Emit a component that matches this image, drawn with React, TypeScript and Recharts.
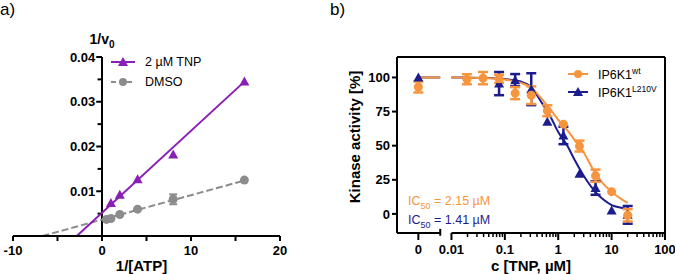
import React from "react";
import { ComposedChart, Line, Scatter, XAxis, YAxis, ReferenceLine, ErrorBar, Legend } from "recharts";

const FONT = "Arial, 'Liberation Sans', Helvetica, sans-serif";
const PURPLE = "#8a1fb6";
const GREY = "#8c8c8c";
const ORANGE = "#f7953f";
const NAVY = "#1c1c8e";

// a) Lineweaver-Burk: 1/[ATP] vs 1/v0
const dmsoInvAtp = [0.5, 1, 2, 4, 8, 16];
const dmsoInvV = [0.0037, 0.0039, 0.0048, 0.006, 0.0082, 0.0125];
const dmsoErr = [null, null, null, null, 0.0011, null];
const tnpInvAtp = [1, 2, 4, 8, 16];
const tnpInvV = [0.0074, 0.0092, 0.0127, 0.0182, 0.0345];
// fitted lines, read at x-intercept and last point
const tnpFitX = [-2.83, 16];
const tnpFitY = [0, 0.0345];
const dmsoFitX = [-6.7, 16];
const dmsoFitY = [0, 0.0124];
const aXTicks = [-10, -5, 0, 5, 10, 15, 20];
const aXMajor = [-10, 0, 10, 20];
const aYMajor = [0.01, 0.02, 0.03, 0.04];
const aYMinor = [0.005, 0.015, 0.025, 0.035];
const aLegend = ["2 µM TNP", "DMSO"];

// b) dose response, c [TNP, µM] vs kinase activity [%]
const wtConc = [0, 0.0195, 0.039, 0.078, 0.156, 0.3125, 0.625, 1.25, 2.5, 5, 10, 20];
const wtAct = [93, 98.7, 99.5, 99, 88.5, 87, 75.6, 65.8, 49.7, 28, 16.3, -1];
const wtErr = [4, 3.7, 4.5, 3, 4.4, 6.5, 4, null, 4, 4.5, null, 4.5];
const lvConc = [0, 0.078, 0.156, 0.3125, 0.625, 1.25, 2.5, 5, 10, 20];
const lvAct = [100, 95.5, 98, 91.4, 67.5, 57.5, 29.5, 19, 2.5, -0.7];
const lvErr = [null, 8.5, 4.5, 11.7, null, 6.4, null, 5, null, 6.5];
const fitConc = [0.01, 0.02, 0.05, 0.1, 0.2, 0.3, 0.5, 0.7, 1, 1.5, 2, 3, 5, 7, 10, 15, 20];
const wtFit = [100, 99.9, 99.5, 98.5, 96, 93, 84, 77, 69, 61, 54.5, 45, 29.5, 22, 16.3, 11, 8];
const lvFit = [100, 99.9, 99.6, 98.8, 97, 93.5, 81, 72, 60, 49.5, 40, 28, 16, 10.5, 6.5, 4.5, 3.5];
const topFit = 100; // plateau drawn across the "0" segment
const bXLabels = ["0", "0.01", "0.1", "1", "10", "100"];
const bYTicks = [0, 25, 50, 75, 100];
const ic50Wt = "2.15";
const ic50Lv = "1.41";

// broken log axis: decade units, "0" sits left of the break
const ZERO_AT = -2.62;
const BREAK_L = -2.21;
const X_MIN = -3.02;
const X_MAX = 2;
const Y_MIN = -14;
const Y_MAX = 115;
const pos = (c: number) => (c === 0 ? ZERO_AT : Math.log10(c));
const bXTicks = [ZERO_AT, -2, -1, 0, 1, 2];
const bMinor = [-2, -1, 0, 1].flatMap((d) => [2, 3, 4, 5, 6, 7, 8, 9].map((k) => d + Math.log10(k)));

const tnpRows = tnpInvAtp.map((x, i) => ({ x, y: tnpInvV[i] }));
const dmsoRows = dmsoInvAtp.map((x, i) => ({ x, y: dmsoInvV[i], err: dmsoErr[i] }));
const tnpFit = tnpFitX.map((x, i) => ({ x, y: tnpFitY[i] }));
const dmsoFit = dmsoFitX.map((x, i) => ({ x, y: dmsoFitY[i] }));
const wtRows = wtConc.map((c, i) => ({ lx: pos(c), y: wtAct[i], err: wtErr[i] }));
const lvRows = lvConc.map((c, i) => ({ lx: pos(c), y: lvAct[i], err: lvErr[i] }));
const wtCurve = fitConc.map((c, i) => ({ lx: pos(c), y: wtFit[i] }));
const lvCurve = fitConc.map((c, i) => ({ lx: pos(c), y: lvFit[i] }));
const zeroSeg = [{ lx: ZERO_AT, y: topFit }, { lx: BREAK_L, y: topFit }];

const tickStyle = { fill: "#000", fontSize: 13, fontWeight: 700, fontFamily: FONT };
const titleStyle = { fill: "#000", fontSize: 15, fontWeight: 700, fontFamily: FONT };
const ink = { stroke: "#000", strokeWidth: 2 };

const tri = (color: string, s = 5) => (p: any) => (
  <path d={`M${p.cx},${p.cy - s}L${p.cx + s},${p.cy + s * 0.8}L${p.cx - s},${p.cy + s * 0.8}Z`} fill={color} />
);
const dot = (color: string, r = 4) => (p: any) => <circle cx={p.cx} cy={p.cy} r={r} fill={color} />;

type Row = { label: React.ReactNode; color: string; marker: "tri" | "dot"; dash?: string };

function LegendBox({ rows, lineW, rowH }: { rows: Row[]; lineW: number; rowH: number }) {
  return (
    <div style={{ fontFamily: FONT, fontSize: 12.5, color: "#000" }}>
      {rows.map((r, i) => (
        <div key={i} style={{ display: "flex", alignItems: "center", height: rowH }}>
          <svg width={lineW} height={12} style={{ overflow: "visible" }}>
            <line x1={0} x2={lineW} y1={6} y2={6} stroke={r.color} strokeWidth={2} strokeDasharray={r.dash} />
            {r.marker === "tri" ? tri(r.color)({ cx: lineW / 2, cy: 6 }) : dot(r.color)({ cx: lineW / 2, cy: 6 })}
          </svg>
          <span style={{ marginLeft: 10, whiteSpace: "nowrap" }}>{r.label}</span>
        </div>
      ))}
    </div>
  );
}

function KmChart() {
  return (
    <ComposedChart width={300} height={274} margin={{ top: 57, right: 20, bottom: 0, left: 13 }}>
      <XAxis
        type="number"
        dataKey="x"
        domain={[-10, 20]}
        ticks={aXTicks}
        tickFormatter={(v: number) => (aXMajor.includes(v) ? String(v) : "")}
        axisLine={ink}
        tickLine={ink}
        tickSize={5}
        tickMargin={5}
        tick={tickStyle}
        height={38}
        allowDataOverflow
        label={{ value: "1/[ATP]", position: "insideBottom", offset: 3, dx: -5, ...titleStyle }}
      />
      <YAxis type="number" dataKey="y" domain={[0, 0.04]} hide allowDataOverflow />
      <ReferenceLine
        segment={[{ x: 0, y: 0 }, { x: 0, y: 0.04 }]}
        {...ink}
        label={{
          content: ({ viewBox }: any) => (
            <text x={viewBox.x} y={viewBox.y - 13} textAnchor="middle" {...titleStyle} fontSize={14}>
              1/v<tspan fontSize={10} dy={4}>0</tspan>
            </text>
          ),
        }}
      />
      {aYMajor.map((v) => (
        <ReferenceLine
          key={v}
          segment={[{ x: -0.65, y: v }, { x: 0, y: v }]}
          {...ink}
          label={{ value: String(v), position: "left", offset: 1, ...tickStyle }}
        />
      ))}
      {aYMinor.map((v) => (
        <ReferenceLine key={v} segment={[{ x: -0.5, y: v }, { x: 0, y: v }]} {...ink} />
      ))}
      <Line data={dmsoFit} dataKey="y" type="linear" stroke={GREY} strokeWidth={2} strokeDasharray="7 3" dot={false} isAnimationActive={false} />
      <Line data={tnpFit} dataKey="y" type="linear" stroke={PURPLE} strokeWidth={2} dot={false} isAnimationActive={false} />
      <Scatter data={dmsoRows} fill={GREY} shape={dot(GREY, 4.5)} isAnimationActive={false}>
        <ErrorBar dataKey="err" direction="y" width={4} stroke={GREY} strokeWidth={2} />
      </Scatter>
      <Scatter data={tnpRows} fill={PURPLE} shape={tri(PURPLE, 5)} isAnimationActive={false} />
      <Legend
        layout="vertical"
        align="center"
        verticalAlign="middle"
        wrapperStyle={{ left: 111, top: 52.6, width: "auto" }}
        content={() => (
          <LegendBox
            lineW={24}
            rowH={19.4}
            rows={[
              { label: aLegend[0], color: PURPLE, marker: "tri" },
              { label: aLegend[1], color: GREY, marker: "dot", dash: "5 3" },
            ]}
          />
        )}
      />
    </ComposedChart>
  );
}

function DoseChart() {
  return (
    <ComposedChart width={340} height={274} margin={{ top: 57, right: 10, bottom: 0, left: 17 }}>
      <XAxis
        type="number"
        dataKey="lx"
        domain={[X_MIN, X_MAX]}
        ticks={bXTicks}
        tickFormatter={(v: number) => bXLabels[bXTicks.indexOf(v)] ?? ""}
        axisLine={false}
        tickLine={ink}
        tickSize={7}
        tickMargin={5}
        tick={tickStyle}
        height={41}
        allowDataOverflow
        label={{ value: "c [TNP, µM]", position: "insideBottom", offset: 3, ...titleStyle }}
      />
      <YAxis
        type="number"
        dataKey="y"
        domain={[Y_MIN, Y_MAX]}
        ticks={bYTicks}
        axisLine={ink}
        tickLine={ink}
        tickSize={5}
        tickMargin={2}
        tick={tickStyle}
        width={45}
        allowDataOverflow
        label={{
          content: ({ viewBox }: any) => (
            <text
              transform={`translate(${viewBox.x + 8},${viewBox.y + viewBox.height / 2 - 8}) rotate(-90)`}
              textAnchor="middle"
              {...titleStyle}
            >
              Kinase activity [%]
            </text>
          ),
        }}
      />
      <ReferenceLine y={Y_MAX} {...ink} />
      <ReferenceLine x={X_MAX} {...ink} />
      <ReferenceLine segment={[{ x: X_MIN, y: Y_MIN }, { x: BREAK_L, y: Y_MIN }]} {...ink} ifOverflow="visible" />
      <ReferenceLine segment={[{ x: -2, y: Y_MIN }, { x: X_MAX, y: Y_MIN }]} {...ink} ifOverflow="visible" />
      <ReferenceLine segment={[{ x: BREAK_L, y: Y_MIN + 3 }, { x: BREAK_L, y: Y_MIN - 2 }]} {...ink} ifOverflow="visible" />
      {bMinor.map((m) => (
        <ReferenceLine key={m} segment={[{ x: m, y: Y_MIN }, { x: m, y: Y_MIN - 3 }]} stroke="#000" strokeWidth={1.5} ifOverflow="visible" />
      ))}
      <Line data={zeroSeg} dataKey="y" type="linear" stroke={NAVY} strokeWidth={2} dot={false} isAnimationActive={false} />
      <Line data={lvCurve} dataKey="y" type="monotone" stroke={NAVY} strokeWidth={2} dot={false} isAnimationActive={false} />
      <Line data={wtCurve} dataKey="y" type="monotone" stroke={ORANGE} strokeWidth={2} dot={false} isAnimationActive={false} />
      <Line data={zeroSeg} dataKey="y" type="linear" stroke={ORANGE} strokeWidth={2} dot={false} isAnimationActive={false} />
      <Scatter data={lvRows} fill={NAVY} shape={tri(NAVY, 5)} isAnimationActive={false}>
        <ErrorBar dataKey="err" direction="y" width={5} stroke={NAVY} strokeWidth={2.5} />
      </Scatter>
      <Scatter data={wtRows} fill={ORANGE} shape={dot(ORANGE, 4.5)} isAnimationActive={false}>
        <ErrorBar dataKey="err" direction="y" width={5} stroke={ORANGE} strokeWidth={2.5} />
      </Scatter>
      <Legend
        layout="vertical"
        align="center"
        verticalAlign="middle"
        wrapperStyle={{ left: 233, top: 65.2, width: "auto" }}
        content={() => (
          <LegendBox
            lineW={20}
            rowH={17.7}
            rows={[
              { label: <>IP6K1<sup style={{ fontSize: 8.5 }}>wt</sup></>, color: ORANGE, marker: "dot" },
              { label: <>IP6K1<sup style={{ fontSize: 8.5 }}>L210V</sup></>, color: NAVY, marker: "tri" },
            ]}
          />
        )}
      />
    </ComposedChart>
  );
}

const ic50Style = (color: string, top: number): React.CSSProperties => ({
  position: "absolute",
  left: 408,
  top,
  lineHeight: "15px",
  fontSize: 12.5,
  color,
  fontFamily: FONT,
  whiteSpace: "nowrap",
});

export default function App() {
  return (
    <div style={{ position: "absolute", left: 0, top: 0, width: 675, height: 274, background: "#fff", fontFamily: FONT }}>
      <div style={{ position: "absolute", left: 0, top: 0 }}>
        <KmChart />
      </div>
      <div style={{ position: "absolute", left: 335, top: 0 }}>
        <DoseChart />
      </div>
      <div style={{ position: "absolute", left: 0, top: 1, fontSize: 17, lineHeight: "17px" }}>a)</div>
      <div style={{ position: "absolute", left: 330, top: 1, fontSize: 17, lineHeight: "17px" }}>b)</div>
      <div style={ic50Style(ORANGE, 194)}>
        IC<sub style={{ fontSize: 9, lineHeight: 0 }}>50</sub> = {ic50Wt} µM
      </div>
      <div style={ic50Style(NAVY, 212.5)}>
        IC<sub style={{ fontSize: 9, lineHeight: 0 }}>50</sub> = {ic50Lv} µM
      </div>
    </div>
  );
}
